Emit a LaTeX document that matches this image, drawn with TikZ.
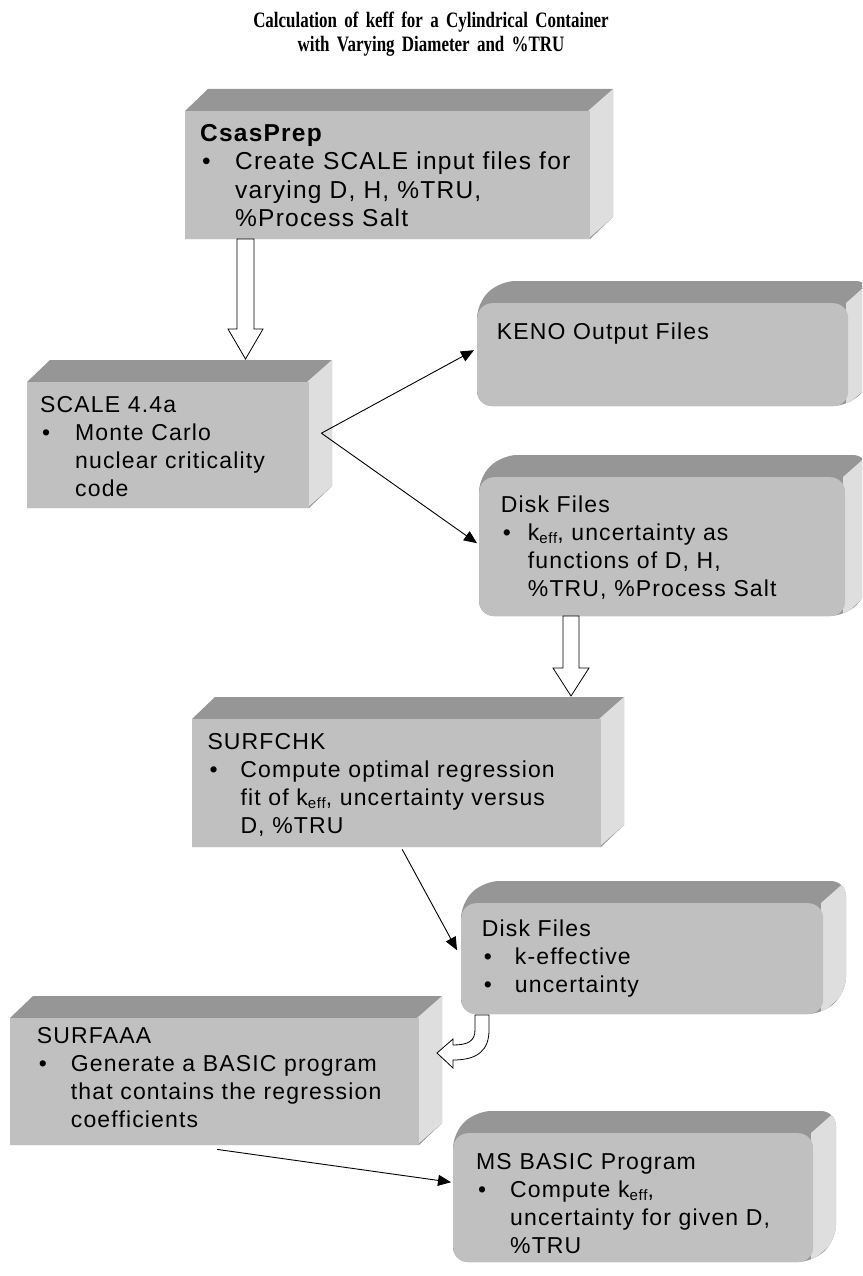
\documentclass[tikz,border=0pt]{standalone}
\usepackage{fontspec}
\setmainfont{Liberation Sans}[LetterSpace=5]
\newfontfamily\titlefont{Liberation Serif}[FakeStretch=0.77]
\usetikzlibrary{arrows.meta,calc}
\definecolor{frontc}{HTML}{C0C0C0}
\definecolor{topc}{HTML}{969696}
\definecolor{sidec}{HTML}{DEDEDE}
\newcommand\bul[1]{\makebox[#1][l]{\hspace{2pt}\textbullet}}
\newcommand\eff{\raisebox{-3.5pt}{\fontsize{15}{15}\selectfont eff}}
% #1 name, #2 x1, #3 y1, #4 x2, #5 y2, #6 corner style
\newcommand\solidbox[6]{%
  \fill[topc,#6] (#2,#5) -- (#2,#3) -- (#2+23,#3-22) -- (#4+23,#3-22) -- (#4+23,#5-22) -- (#4,#5) -- cycle;
  \begin{scope}
    \clip[#6] (#2,#5) -- (#2,#3) -- (#2+23,#3-22) -- (#4+23,#3-22) -- (#4+23,#5-22) -- (#4,#5) -- cycle;
    \fill[sidec] (#4-2,#3) -- (#4+23,#3-22) -- (#4+23,#5-22) -- (#4-2,#5) -- cycle;
  \end{scope}
  \pgfmathsetmacro\bw{#4-#2}\pgfmathsetmacro\bh{#5-#3}%
  \node[fill=frontc,#6,inner sep=0pt,minimum width=\bw pt,minimum height=\bh pt,anchor=north west] (#1) at (#2,#3) {};
}
\tikzset{
  boxtext/.style={anchor=base west, inner sep=0pt, text width=#1, align=left,
    font=\fontsize{23}{28}\selectfont},
  thinarrow/.style={-{Triangle[length=13pt,width=11pt]}, line width=0.9pt},
  blockarrow/.style={fill=white, draw=black, line width=0.8pt},
  roundc/.style={rounded corners=15pt},
}
\begin{document}
\begin{tikzpicture}[x=1pt,y=-1pt]
\useasboundingbox (0,0) rectangle (862,1276);
\clip (0,0) rectangle (862,1276);

\node[font=\titlefont\bfseries\fontsize{22}{24.5}\selectfont, anchor=base, text width=600pt, align=center, inner sep=0pt] (title) at (431,27.5)
  {Calculation of keff for a Cylindrical Container\\ with Varying Diameter and \%TRU};

% boxes
\solidbox{b1}{185}{111}{590}{239}{sharp corners}
\solidbox{b2}{27}{382}{309}{508}{sharp corners}
\solidbox{b3}{477}{303}{848}{406}{roundc}
\solidbox{b4}{479}{477}{845}{616}{roundc}
\solidbox{b5}{192}{719}{601}{847}{sharp corners}
\solidbox{b6}{461}{903}{823}{1014}{roundc}
\solidbox{b7}{10}{1018}{419}{1145}{sharp corners}
\solidbox{b8}{453}{1133}{813}{1262}{roundc}

% texts
\node[boxtext=450pt, font=\fontsize{24.5}{28.3}\selectfont] (t1) at (200,141.7) {{\bfseries CsasPrep}\\
  \bul{35pt}Create SCALE input files for\\
  \hspace*{35pt}varying D, H, \%TRU,\\
  \hspace*{35pt}\%Process Salt};
\node[boxtext=450pt] (t2) at (40,412.3) {SCALE 4.4a\\
  \bul{35pt}Monte Carlo\\
  \hspace*{35pt}nuclear criticality\\
  \hspace*{35pt}code};
\node[boxtext=450pt] (t3) at (496.7,339.3) {KENO Output Files};
\node[boxtext=450pt] (t4) at (500.7,512.3) {Disk Files\\
  \bul{27pt}k\eff, uncertainty as\\
  \hspace*{27pt}functions of D, H,\\
  \hspace*{27pt}\%TRU, \%Process Salt};
\node[boxtext=450pt] (t5) at (207.3,749.3) {SURFCHK\\
  \bul{33pt}Compute optimal regression\\
  \hspace*{33pt}fit of k\eff, uncertainty versus\\
  \hspace*{33pt}D, \%TRU};
\node[boxtext=450pt] (t6) at (481.7,936.7) {Disk Files\\
  \bul{33pt}k-effective\\
  \bul{33pt}uncertainty};
\node[boxtext=450pt] (t7) at (36.7,1043.3) {SURFAAA\\
  \bul{34pt}Generate a BASIC program\\
  \hspace*{34pt}that contains the regression\\
  \hspace*{34pt}coefficients};
\node[boxtext=450pt] (t8) at (476,1169) {MS BASIC Program\\
  \bul{34pt}Compute k\eff,\\
  \hspace*{34pt}uncertainty for given D,\\
  \hspace*{34pt}\%TRU};

% block arrows
\draw[blockarrow] (237,239) -- (237,329) -- (228,329) -- (245.5,359) -- (263,329) -- (254,329) -- (254,239) -- cycle;
\draw[blockarrow] (563,616) -- (563,668) -- (553,668) -- (571,696) -- (589,668) -- (579,668) -- (579,616) -- cycle;
\draw[blockarrow] (475,1015) -- (475,1030) .. controls (475,1041) and (468,1045) .. (453,1045) -- (453,1039) -- (437,1053) -- (453,1068) -- (453,1060) .. controls (478,1060) and (489,1050) .. (489,1030) -- (489,1015) -- cycle;

% thin arrows
\coordinate (fork) at ([xshift=12pt,yshift=12pt]b2.east);
\draw[thinarrow] (fork) -- ([xshift=-3pt,yshift=4.5pt]b3.west);
\draw[thinarrow] (fork) -- ([xshift=-2pt,yshift=3.5pt]b4.west);
\draw[thinarrow] ([xshift=5.5pt,yshift=-2pt]b5.south) -- ([xshift=-4pt,yshift=8.5pt]b6.west);
\draw[thinarrow] ([xshift=2.5pt,yshift=-4pt]b7.south) -- ([xshift=-2pt,yshift=15.5pt]b8.west);
\end{tikzpicture}
\end{document}
